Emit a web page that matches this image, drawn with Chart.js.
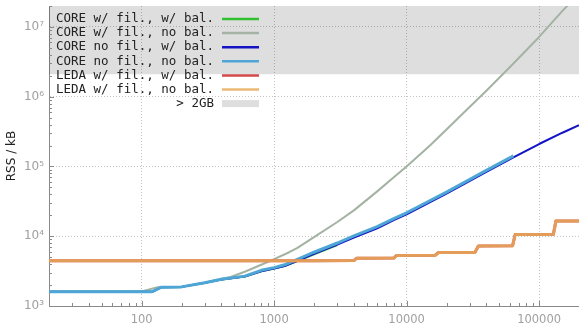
<!DOCTYPE html>
<html>
<head>
<meta charset="utf-8">
<script src="https://cdn.jsdelivr.net/npm/chart.js@4"></script>
<style>
  html, body { margin: 0; padding: 0; background: #fff; }
  #wrap { width: 579px; height: 326px; position: relative; }
</style>
</head>
<body>
<div id="wrap"><canvas id="cRss"></canvas></div>
<script>
// ---- data ----
const seriesLabels = ['CORE w/ fil., w/ bal.', 'CORE w/ fil., no bal.', 'CORE no fil., w/ bal.',
                      'CORE no fil., no bal.', 'LEDA w/ fil., w/ bal.', 'LEDA w/ fil., no bal.'];
const seriesColors = ['#2fbf2f', '#a3b3a3', '#1414c4', '#4da6d6', '#d24a4a', 'rgba(232,172,92,0.85)'];
const seriesWidths = [2, 2, 2, 3, 3, 3];

const greenN   = [20, 120, 140, 200, 300, 400, 600, 800, 1000, 1200, 1500, 2000, 3000];
const greenRss = [1600, 1600, 1850, 1880, 2150, 2400, 2650, 3150, 3450, 3750, 4400, 5500, 7500];

const grayN   = [20, 100, 130, 200, 300, 400, 470, 600, 800, 1000, 1300, 1500, 2000, 3000, 4000, 6000,
                 8000, 10000, 15000, 20000, 30000, 40000, 64000, 100000, 150000, 200000];
const grayRss = [1600, 1610, 1850, 1880, 2150, 2450, 2600, 3100, 3900, 4700, 5900, 6800, 9700, 16000, 23500, 44000,
                 70000, 100000, 200000, 340000, 720000, 1220000, 3000000, 7200000, 17000000, 30000000];

const blueN   = [20, 120, 140, 200, 300, 400, 600, 800, 1000, 1200, 1500, 2000, 3000, 4000, 6000,
                 8000, 10000, 20000, 40000, 64000, 100000, 150000, 200000];
const blueRss = [1600, 1600, 1850, 1880, 2150, 2400, 2650, 3150, 3450, 3750, 4450, 5600, 7600, 9600, 13000,
                 17000, 20600, 41000, 84000, 135000, 210000, 305000, 390000];

const lblueN   = [20, 120, 140, 200, 300, 400, 600, 800, 1000, 1200, 1500, 2000, 3000, 4000, 6000,
                  8000, 10000, 20000, 40000, 64000];
const lblueRss = [1600, 1600, 1850, 1880, 2150, 2420, 2680, 3250, 3550, 3900, 4650, 5900, 8000, 10100, 13700,
                  17900, 21700, 43000, 88000, 142000];

const ledaN   = [20, 1000, 2000, 4000, 4200, 8000, 8400, 16400, 17400, 32800, 34800, 63000, 66000, 128000, 134000, 200000];
const ledaRss = [4440, 4450, 4470, 4480, 4850, 4870, 5300, 5320, 5850, 5870, 7260, 7280, 10600, 10600, 16600, 16600];

const bandRss = 2097152;      // > 2GB in kB
const bandLabel = '> 2GB';
const xMin = 20, xMax = 200000;
const yMin = 1000, yMax = 20000000;
const xLabelTicks = [100, 1000, 10000, 100000];
const yLabelTicks = [1e3, 1e4, 1e5, 1e6, 1e7];
const supDigits = { 3: '\u00b3', 4: '\u2074', 5: '\u2075', 6: '\u2076', 7: '\u2077' };

// ---- helpers ----
const pts = (xs, ys) => xs.map((x, i) => ({ x, y: ys[i] }));
const isDecade = v => Math.abs(Math.log10(v) - Math.round(Math.log10(v))) < 1e-9;
function logTicks(lo, hi) {
  const out = [];
  for (let e = Math.floor(Math.log10(lo)); e <= Math.ceil(Math.log10(hi)); e++) {
    for (let m = 1; m < 10; m++) {
      const v = m * Math.pow(10, e);
      if (v >= lo * 0.999 && v <= hi * 1.001) out.push({ value: v, major: m === 1 });
    }
  }
  return out;
}

const line = (idx, data, order) => ({
  label: seriesLabels[idx], data, borderColor: seriesColors[idx], borderWidth: seriesWidths[idx],
  pointRadius: 0, fill: false, tension: 0, borderJoinStyle: 'round', order
});

// inward tick marks on left & bottom axes
const tickMarks = {
  id: 'tickMarks',
  afterDraw(chart) {
    const { ctx, chartArea: a, scales: { x, y } } = chart;
    ctx.save();
    ctx.strokeStyle = '#8a8a8a'; ctx.lineWidth = 1;
    ctx.beginPath();
    x.ticks.forEach(t => {
      const px = Math.round(x.getPixelForValue(t.value)) + 0.5;
      const len = isDecade(t.value) ? 5 : 3;
      ctx.moveTo(px, a.bottom); ctx.lineTo(px, a.bottom - len);
    });
    y.ticks.forEach(t => {
      const py = Math.round(y.getPixelForValue(t.value)) + 0.5;
      const len = isDecade(t.value) ? 5 : 3;
      ctx.moveTo(a.left, py); ctx.lineTo(a.left + len, py);
    });
    ctx.stroke();
    ctx.restore();
  }
};

// legend: text on the left, sample on the right
const sideLegend = {
  id: 'sideLegend',
  afterDraw(chart) {
    const { ctx, chartArea: a } = chart;
    const textR = a.left + 165, s0 = a.left + 173, s1 = a.left + 210;
    let yy = a.top + 13;
    ctx.save();
    ctx.font = '12.5px "DejaVu Sans Mono", monospace';
    ctx.textAlign = 'right'; ctx.textBaseline = 'middle';
    seriesLabels.forEach((lab, i) => {
      ctx.fillStyle = '#222';
      ctx.fillText(lab, textR, yy);
      ctx.strokeStyle = seriesColors[i]; ctx.lineWidth = 2.5;
      ctx.beginPath(); ctx.moveTo(s0, yy); ctx.lineTo(s1, yy); ctx.stroke();
      yy += 14.1;
    });
    ctx.fillStyle = '#222';
    ctx.fillText(bandLabel, textR, yy);
    ctx.fillStyle = '#dedede';
    ctx.fillRect(s0, yy - 3.5, s1 - s0, 7);
    ctx.restore();
  }
};

new Chart(document.getElementById('cRss').getContext('2d'), {
  type: 'line',
  data: {
    datasets: [
      { label: bandLabel, data: pts([xMin, xMax], [bandRss, bandRss]), borderWidth: 0, pointRadius: 0,
        fill: 'end', backgroundColor: 'rgba(0,0,0,0.13)', order: 10 },
      line(0, pts(greenN, greenRss), 6),
      line(1, pts(grayN, grayRss), 5),
      line(2, pts(blueN, blueRss), 4),
      line(3, pts(lblueN, lblueRss), 3),
      line(4, pts(ledaN, ledaRss), 2),
      line(5, pts(ledaN, ledaRss), 1),
    ]
  },
  options: {
    responsive: true, maintainAspectRatio: false, animation: false,
    layout: { padding: { top: 6, right: 0, left: 0, bottom: 0 } },
    plugins: { legend: { display: false }, tooltip: { enabled: false } },
    scales: {
      x: {
        type: 'logarithmic', min: xMin, max: xMax,
        afterBuildTicks: s => { s.ticks = logTicks(xMin, xMax); },
        afterFit: s => { s.height = 20; s.paddingLeft = 0; s.paddingRight = 0; },
        ticks: {
          autoSkip: false, maxRotation: 0, minRotation: 0, padding: 7,
          color: '#a0a0a0', font: { size: 11.5, family: 'DejaVu Sans' },
          callback: v => xLabelTicks.includes(v) ? String(v) : ''
        },
        grid: { drawTicks: false, color: c => (c.tick && isDecade(c.tick.value)) ? '#c4c4c4' : 'rgba(0,0,0,0)' },
        border: { color: '#8a8a8a', width: 1, dash: [1, 2] }
      },
      y: {
        type: 'logarithmic', min: yMin, max: yMax,
        afterBuildTicks: s => { s.ticks = logTicks(yMin, yMax); },
        afterFit: s => { s.width = 49; s.paddingTop = 0; s.paddingBottom = 0; },
        ticks: {
          autoSkip: false, padding: 5,
          color: '#a0a0a0', font: { size: 12, family: 'DejaVu Sans' },
          callback: v => yLabelTicks.includes(v) ? '10' + supDigits[Math.round(Math.log10(v))] : ''
        },
        grid: { drawTicks: false, color: c => (c.tick && isDecade(c.tick.value)) ? '#c4c4c4' : 'rgba(0,0,0,0)' },
        border: { color: '#8a8a8a', width: 1, dash: [1, 2] },
        title: { display: true, text: 'RSS / kB', color: '#222', font: { size: 12, family: 'DejaVu Sans' }, padding: { top: 5, bottom: 0 } }
      }
    }
  },
  plugins: [tickMarks, sideLegend]
});
</script>
</body>
</html>
